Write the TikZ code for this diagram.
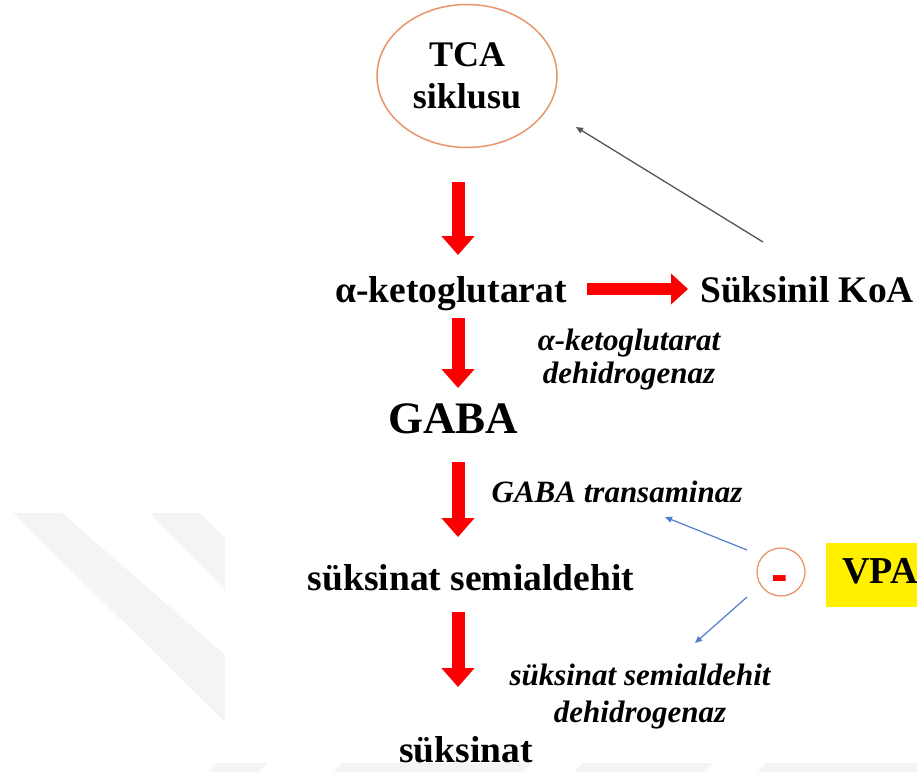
\documentclass[tikz,border=0pt]{standalone}
\usepackage{fontspec}
\setmainfont{Liberation Serif}
\newfontfamily\minusfont{Liberation Sans}
\usetikzlibrary{arrows.meta,shapes.geometric}
\definecolor{redA}{RGB}{250,0,0}
\definecolor{orangeE}{RGB}{232,150,105}
\definecolor{blueA}{RGB}{85,125,205}
\definecolor{grayA}{RGB}{85,85,85}
\definecolor{wm}{RGB}{244,244,244}
\definecolor{vpay}{RGB}{255,240,0}
\begin{document}
\begin{tikzpicture}[x=1pt,y=-1pt,
  main/.style={font=\fontsize{37.5}{40}\selectfont\bfseries, inner sep=0pt, anchor=base},
  enz/.style={font=\fontsize{31}{35}\selectfont\bfseries\itshape, inner sep=0pt, anchor=base},
  bigarrow/.style={draw=redA, line width=13pt, -{Triangle[width=32pt,length=19pt]}},
  thinblue/.style={draw=blueA, line width=1.2pt, -{Triangle[width=6pt,length=7pt]}},
  thingray/.style={draw=grayA, line width=1.3pt, -{Triangle[width=6pt,length=7pt]}}]
\useasboundingbox (0,0) rectangle (917,772);
% faint watermark
\fill[wm] (13,513) -- (62,513) -- (225,655) -- (225,722) -- cycle;
\fill[wm] (150,513) -- (200,513) -- (225,538) -- (225,590) -- cycle;
\fill[wm] (207,772) -- (216,763) -- (267,763) -- (258,772) -- cycle;
\fill[wm] (333,772) -- (342,763) -- (532,763) -- (523,772) -- cycle;
\fill[wm] (574,772) -- (583,763) -- (714,763) -- (705,772) -- cycle;
\fill[wm] (757,772) -- (766,763) -- (917,763) -- (917,772) -- cycle;
\fill[white] (225,0) rectangle (917,763);

% nodes
\node[draw=orangeE, line width=1.5pt, ellipse, minimum width=180pt, minimum height=143pt,
      font=\fontsize{36}{42}\selectfont\bfseries, align=center] (tca) at (467,76) {TCA\\siklusu};
\node[main] (akg) at (451,302) {α-ketoglutarat};
\node[main] (suk) at (807,302) {Süksinil KoA};
\node[main, font=\fontsize{45}{48}\selectfont\bfseries] (gaba) at (453,433) {GABA};
\node[main] (ssa) at (471,590) {süksinat semialdehit};
\node[main] (sukat) at (466,762) {süksinat};

\node[enz] (enz1a) at (629,350) {α-ketoglutarat};
\node[enz] (enz1b) at (629,383) {dehidrogenaz};
\node[enz] (enz2) at (617,502) {GABA transaminaz};
\node[enz] (enz3a) at (640,685) {süksinat semialdehit};
\node[enz] (enz3b) at (640,722) {dehidrogenaz};

\node[draw=orangeE, line width=1.3pt, circle, minimum size=48pt, inner sep=0pt] (inh) at (781,572) {};
\node[font=\fontsize{50}{50}\selectfont\minusfont\bfseries, text=redA, inner sep=0pt, anchor=base] (minus) at (780,591) {-};
\node[fill=vpay, font=\fontsize{38}{40}\selectfont\bfseries, anchor=north west, inner xsep=16pt, inner ysep=15pt,
      text height=25pt, text depth=9pt] (vpa) at (826,543) {VPA};

% connector end points
\coordinate (a1s) at (458,182);
\coordinate (a1e) at (458,255);
\coordinate (a2s) at (458,318);
\coordinate (a2e) at (458,388);
\coordinate (a3s) at (458,462);
\coordinate (a3e) at (458,537);
\coordinate (a4s) at (458,612);
\coordinate (a4e) at (458,687);
\coordinate (hs) at (587,289);
\coordinate (he) at (688,289);
\coordinate (bks) at (763,242);
\coordinate (bke) at (576,127);
\coordinate (b1s) at (747,550);
\coordinate (b1e) at (665,517);
\coordinate (b2s) at (747,597);
\coordinate (b2e) at (695,643);

\draw[bigarrow] (a1s) -- (a1e);
\draw[bigarrow] (a2s) -- (a2e);
\draw[bigarrow] (a3s) -- (a3e);
\draw[bigarrow] (a4s) -- (a4e);
\draw[bigarrow, line width=12pt, -{Triangle[width=30pt,length=17pt]}] (hs) -- (he);
\draw[thingray] (bks) -- (bke);
\draw[thinblue] (b1s) -- (b1e);
\draw[thinblue] (b2s) -- (b2e);
\end{tikzpicture}
\end{document}
